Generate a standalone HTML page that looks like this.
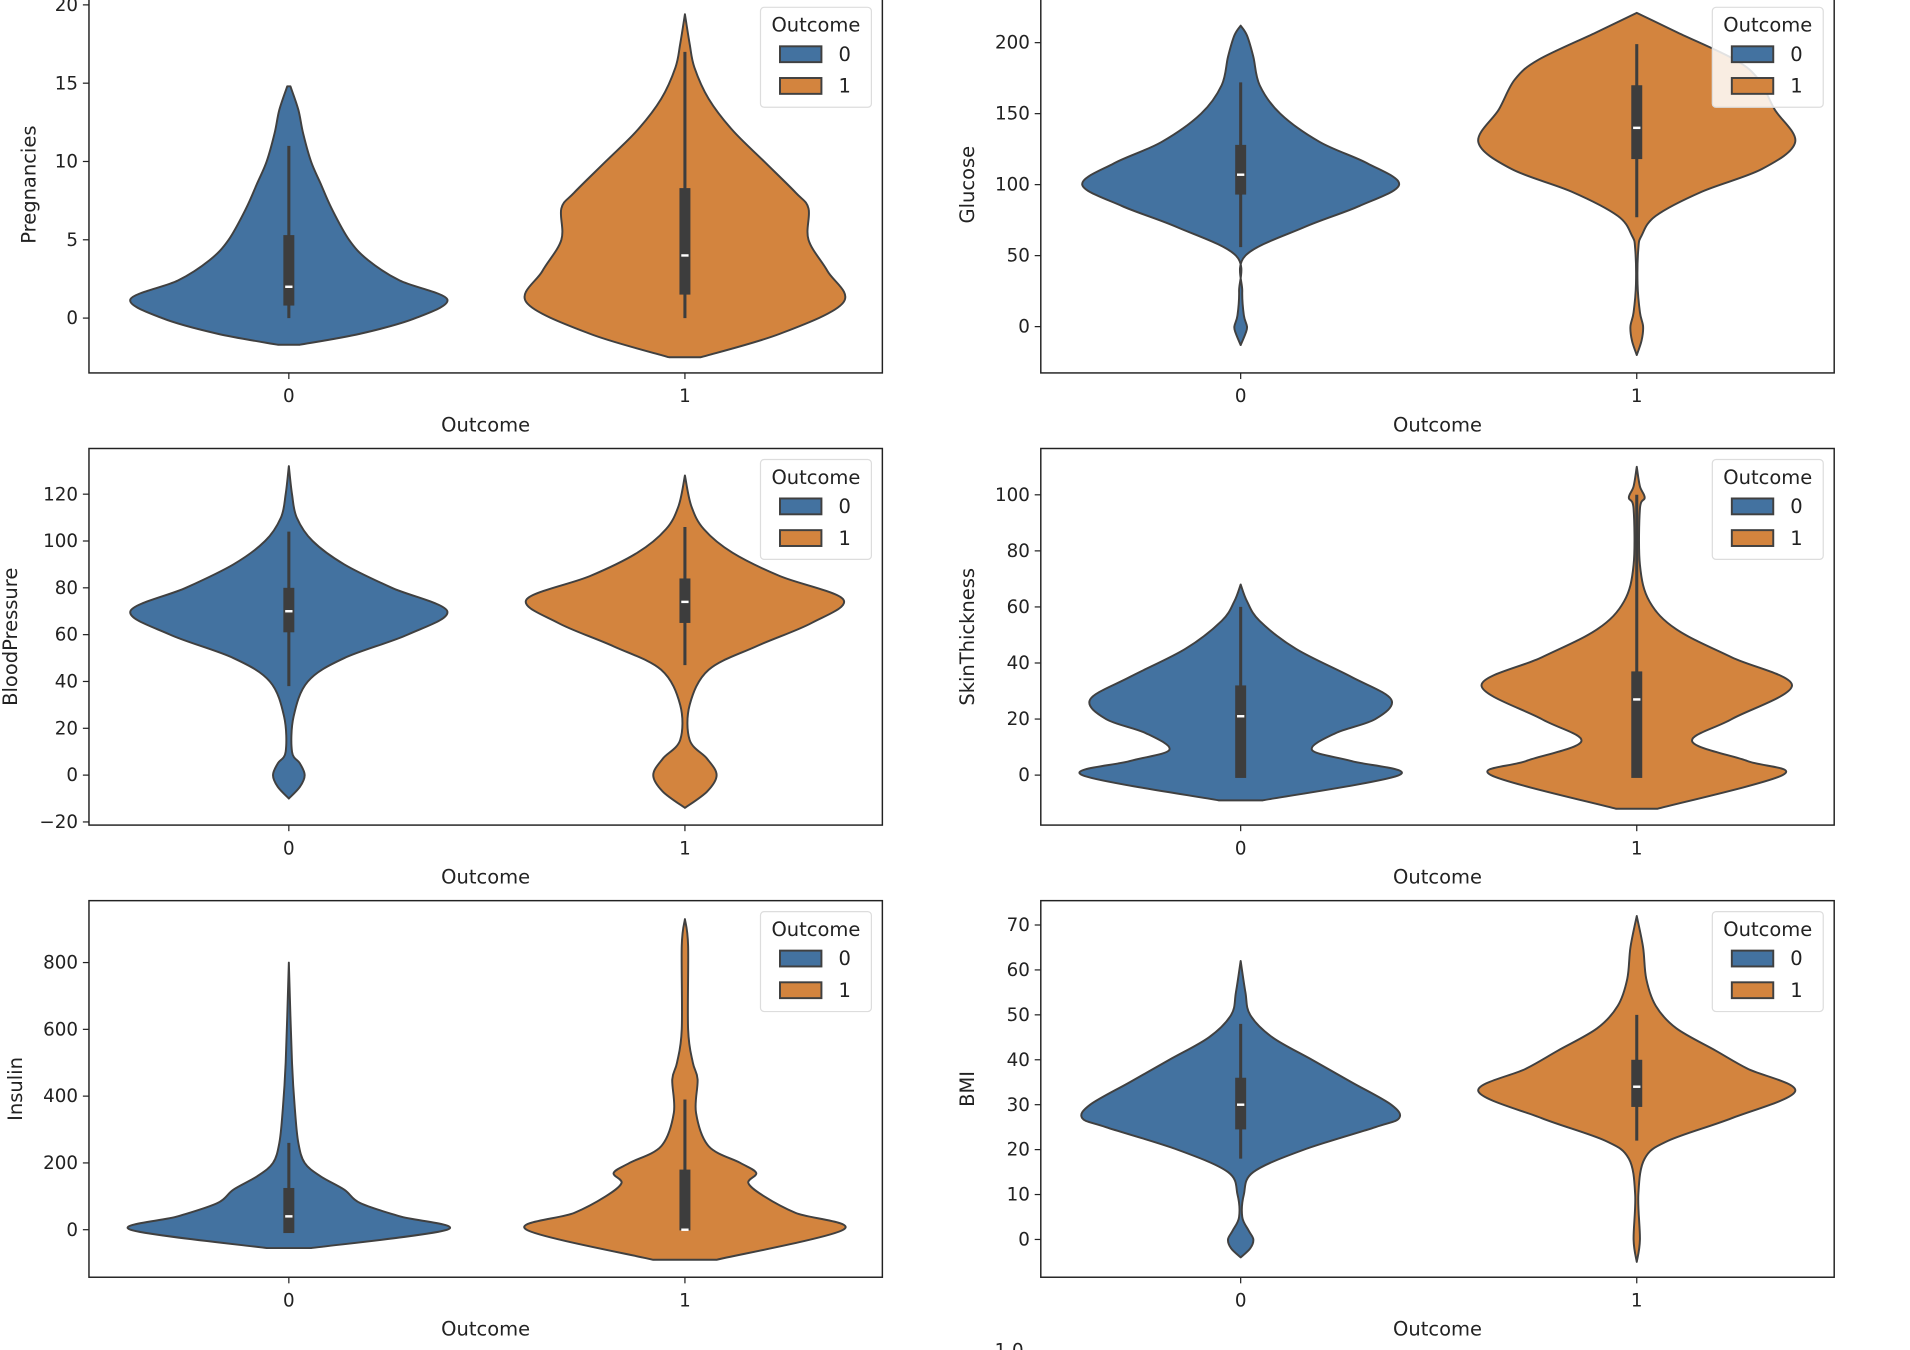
<!DOCTYPE html>
<html><head><meta charset="utf-8"><style>
html,body{margin:0;padding:0;background:#fff;}
svg{display:block;font-family:"DejaVu Sans","Liberation Sans",sans-serif;}
</style></head><body>
<svg id="fig" width="1910" height="1350" viewBox="0 0 1567.2 1107.7" preserveAspectRatio="none" xmlns="http://www.w3.org/2000/svg">
<text x="828" y="1113" font-size="15" text-anchor="middle" fill="#222">1.0</text>
</svg>
<script>
const features = ["Pregnancies","Glucose","BloodPressure","SkinThickness","Insulin","BMI"];
const categories = ["0","1"];
const yTicks = [[0,5,10,15,20],[0,50,100,150,200],[-20,0,20,40,60,80,100,120],[0,20,40,60,80,100],[0,200,400,600,800],[0,10,20,30,40,50,60,70]];
// density profiles: values and relative widths per violin [feature][outcome]
const violinValues = [
 [[-1.7,-1,0,1.2,2.4,3.7,5,7,8.6,10,11.8,13.3,14.8],[-2.5,-1,1,3,5,7,8,10,12,14,16,17.5,19.4]],
 [[-13,-5,0,8,25,50,70,85,100,115,130,150,170,190,205,212],[-20,-10,0,10,30,55,64,78,95,111,130,153,174,188,207,221]],
 [[-10,-5,0,5,10,25,40,50,60,70,80,90,100,110,120,132],[-14,-7,0,7,15,30,45,55,65,75,85,95,105,115,128]],
 [[-9,0,5,9,15,20,27,35,45,55,62,68],[-12,0,5,12,20,32,42,52,62,75,95,99,103,110]],
 [[-55,0,40,80,120,160,200,260,350,500,800],[-90,0,50,100,140,170,200,250,350,450,500,600,850,930]],
 [[-4,-2,0,2,5,10,15,20,25,27,30,35,40,45,50,55,62],[-5,0,10,18,22,27,33,38,42,47,52,58,65,72]]
];
const violinWidths = [
 [[0.07,0.45,0.8,1.0,0.7,0.5,0.38,0.27,0.2,0.14,0.09,0.06,0.01],[0.1,0.6,1.0,0.9,0.78,0.78,0.7,0.5,0.3,0.15,0.06,0.03,0.0]],
 [[0.0,0.03,0.04,0.02,0.01,0.03,0.4,0.75,1.0,0.8,0.5,0.25,0.12,0.08,0.04,0.0],[0.0,0.03,0.04,0.02,0.005,0.01,0.03,0.12,0.41,0.79,1.0,0.87,0.77,0.62,0.26,0.0]],
 [[0.0,0.07,0.1,0.07,0.02,0.03,0.12,0.35,0.75,1.0,0.65,0.35,0.15,0.05,0.02,0.0],[0.0,0.14,0.2,0.14,0.03,0.03,0.15,0.45,0.8,1.0,0.6,0.3,0.12,0.04,0.0]],
 [[0.14,1.0,0.7,0.45,0.6,0.85,0.95,0.7,0.35,0.12,0.04,0.0],[0.13,0.92,0.7,0.35,0.6,0.98,0.6,0.25,0.08,0.02,0.02,0.05,0.02,0.0]],
 [[0.14,1.0,0.7,0.45,0.35,0.2,0.1,0.06,0.04,0.02,0.0],[0.2,1.0,0.7,0.5,0.4,0.45,0.35,0.15,0.07,0.08,0.05,0.02,0.02,0.0]],
 [[0.0,0.06,0.08,0.05,0.01,0.02,0.08,0.4,0.85,1.0,0.95,0.7,0.45,0.2,0.06,0.03,0.0],[0.0,0.02,0.01,0.05,0.2,0.6,1.0,0.7,0.5,0.25,0.12,0.06,0.04,0.0]]
];
// box stats: [whiskerLow, q1, median, q3, whiskerHigh]
const boxStats = [
 [[0,0.8,2,5.3,11],[0,1.5,4,8.3,17]],
 [[56,93,107,128,172],[77,118,140,170,199]],
 [[38,61,70,80,104],[47,65,74,84,106]],
 [[0,-1,21,32,60],[0,-1,27,37,100]],
 [[0,-10,40,125,260],[0,-2,0,180,390]],
 [[18,24.5,30,36,48],[22,29.5,34,40,50]]
];
const zeroPx = [261,268,636,636,1009,1017];
const pxPerUnit = [12.85,1.165,1.921,2.3,0.274,3.686];
const colors = ["#4372a0","#d3843e"];
const NS="http://www.w3.org/2000/svg";
const svg=document.getElementById('fig');
function el(tag,attrs,parent){const e=document.createElementNS(NS,tag);for(const k in attrs)e.setAttribute(k,attrs[k]);(parent||svg).appendChild(e);return e;}
function smooth(pts){let d="M"+pts[0][0]+","+pts[0][1];for(let i=0;i<pts.length-1;i++){const p0=pts[Math.max(0,i-1)],p1=pts[i],p2=pts[i+1],p3=pts[Math.min(pts.length-1,i+2)];const c1=[p1[0]+(p2[0]-p0[0])/6,p1[1]+(p2[1]-p0[1])/6],c2=[p2[0]-(p3[0]-p1[0])/6,p2[1]-(p3[1]-p1[1])/6];d+=" C"+c1[0].toFixed(2)+","+c1[1].toFixed(2)+" "+c2[0].toFixed(2)+","+c2[1].toFixed(2)+" "+p2[0].toFixed(2)+","+p2[1].toFixed(2);}return d;}
const rowTop=[-3,368,739];
for(let f=0;f<6;f++){
 const col=f%2,row=Math.floor(f/2);
 const ax0=col?854:73, ax1=ax0+651, top=rowTop[row], bot=top+309;
 const centers=[ax0+164,ax0+489];
 const yS=v=>zeroPx[f]-v*pxPerUnit[f];
 const g=el('g',{});
 
 
 for(let c=0;c<2;c++){
  const vs=violinValues[f][c],ws=violinWidths[f][c],cx=centers[c];
  const right=vs.map((v,i)=>[cx+ws[i]*130,yS(v)]);
  const left=vs.map((v,i)=>[cx-ws[i]*130,yS(v)]).reverse();
  let d=smooth(right)+" L"+left[0][0]+","+left[0][1]+smooth(left).replace(/^M[^ C]+/,"")+" Z";
  const p=el('path',{d:d,fill:colors[c],stroke:"#404040","stroke-width":1.6,"stroke-linejoin":"round"},g);
  
  
  const b=boxStats[f][c];
  const wl=el('line',{x1:cx,x2:cx,y1:yS(b[0]),y2:yS(b[4]),stroke:"#3d3d3d","stroke-width":2.5},g);
  
  
  const bx=el('rect',{x:cx-4.5,width:9,y:yS(b[3]),height:yS(b[1])-yS(b[3]),fill:"#3d3d3d"},g);
  
  
  const md=el('line',{x1:cx-3,x2:cx+3,y1:yS(b[2]),y2:yS(b[2]),stroke:"#fff","stroke-width":2},g);
  
  
 }
 const fr=el('rect',{x:ax0,y:top,width:651,height:309,fill:"none",stroke:"#222","stroke-width":1.2},g);
 
 
 yTicks[f].forEach(t=>{const y=yS(t);
  el('line',{x1:ax0-5,x2:ax0,y1:y,y2:y,stroke:"#222","stroke-width":1},g);
  const tx=el('text',{x:ax0-9,y:y+5,"font-size":15,"text-anchor":"end",fill:"#222"},g);
  tx.textContent=(t<0?"\u2212"+(-t):""+t);
  
  
 });
 categories.forEach((c,i)=>{
  el('line',{x1:centers[i],x2:centers[i],y1:bot,y2:bot+5,stroke:"#222","stroke-width":1},g);
  const tx=el('text',{x:centers[i],y:bot+24,"font-size":15,"text-anchor":"middle",fill:"#222"},g);
  tx.textContent=c;
  
  
 });
 const xl=el('text',{x:ax0+325.5,y:bot+48,"font-size":16,"text-anchor":"middle",fill:"#222"},g);
 xl.textContent="Outcome";
 
 
 const ylx = col? ax0-55 : (f===2?14:f===4?18:29);
 const yl=el('text',{x:ylx,y:top+154.5,"font-size":16,"text-anchor":"middle",fill:"#222",transform:"rotate(-90 "+ylx+" "+(top+154.5)+")"},g);
 yl.textContent=features[f];
 
 
 const lg=el('g',{},g);
 
 
 const L=ax1-100, T=top+9;
 el('rect',{x:L,y:T,width:91,height:82,rx:3,fill:"#fff","fill-opacity":0.85,stroke:"#ddd","stroke-width":1},lg);
 const lt=el('text',{x:L+45.5,y:T+20,"font-size":16,"text-anchor":"middle",fill:"#222"},lg);
 lt.textContent="Outcome";
 
 
 categories.forEach((c,i)=>{
  const e=el('g',{},lg);
  
  
  el('rect',{x:L+16,y:T+32+i*26,width:34,height:13,fill:colors[i],stroke:"#404040","stroke-width":1.6},e);
  const t=el('text',{x:L+64,y:T+44+i*26,"font-size":16,fill:"#222"},e);
  t.textContent=c;
 });
}
</script>
</body></html>
